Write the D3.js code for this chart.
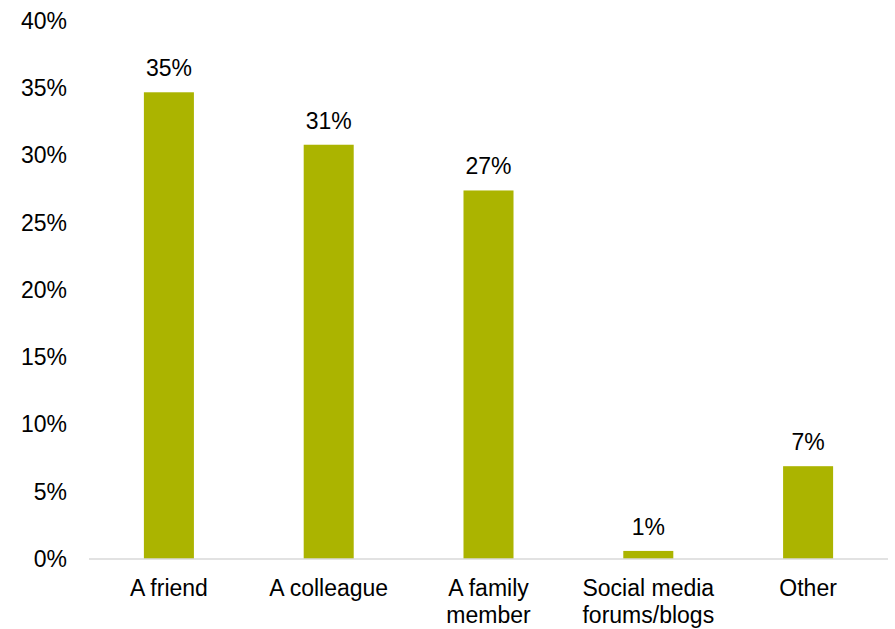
<!DOCTYPE html>
<html>
<head>
<meta charset="utf-8">
<script src="https://cdn.jsdelivr.net/npm/d3@7"></script>
<style>
  html, body { margin: 0; padding: 0; background: #fff; }
  svg { display: block; font-family: "Liberation Sans", Arial, sans-serif; }
</style>
</head>
<body>
<svg id="chart" width="895" height="629"></svg>
<script>
// Where respondents heard about it
const categories = ["A friend", "A colleague", "A family member", "Social media forums/blogs", "Other"];
const categoryLines = [["A friend"], ["A colleague"], ["A family", "member"], ["Social media", "forums/blogs"], ["Other"]];
const shares = [0.347, 0.308, 0.274, 0.006, 0.069];
const yTicks = [0, 0.05, 0.10, 0.15, 0.20, 0.25, 0.30, 0.35, 0.40];

const FONT = 23;
const svg = d3.select("#chart");
const margin = { top: 21, right: 7, bottom: 70, left: 89 };
const width = 895 - margin.left - margin.right;
const height = 629 - margin.top - margin.bottom;

const g = svg.append("g").attr("transform", `translate(${margin.left},${margin.top})`);

const x = d3.scaleBand().domain(categories).range([0, width]).paddingInner(0.687).paddingOuter(0.3435);
const y = d3.scaleLinear().domain([0, 0.40]).range([height, 0]);
const pct = d3.format(".0%");

// y axis: labels only
const yAxis = g.append("g")
  .call(d3.axisLeft(y).tickValues(yTicks).tickFormat(pct).tickSize(0).tickPadding(22));
yAxis.select(".domain").remove();
yAxis.selectAll("text").attr("font-size", FONT).attr("fill", "#000").attr("font-family", "Liberation Sans, Arial, sans-serif");

// bars
g.selectAll("rect.bar").data(shares).join("rect")
  .attr("class", "bar")
  .attr("x", (d, i) => x(categories[i]))
  .attr("width", x.bandwidth())
  .attr("y", d => y(d))
  .attr("height", d => height - y(d))
  .attr("fill", "#abb400");

// value labels
g.selectAll("text.val").data(shares).join("text")
  .attr("class", "val")
  .attr("x", (d, i) => x(categories[i]) + x.bandwidth() / 2)
  .attr("y", d => y(d) - 16)
  .attr("text-anchor", "middle")
  .attr("font-size", FONT)
  .attr("fill", "#000")
  .text(d => pct(d));

// x axis baseline
g.append("line")
  .attr("x1", 0).attr("x2", width)
  .attr("y1", y(0)).attr("y2", y(0))
  .attr("stroke", "#d9d9d9").attr("stroke-width", 1.5);

// category labels
const xl = g.selectAll("text.cat").data(categories).join("text")
  .attr("class", "cat")
  .attr("text-anchor", "middle")
  .attr("font-size", FONT)
  .attr("fill", "#000")
  .attr("transform", d => `translate(${x(d) + x.bandwidth() / 2},${height + 37})`);
xl.selectAll("tspan").data((d, i) => categoryLines[i]).join("tspan")
  .attr("x", 0)
  .attr("dy", (d, j) => j === 0 ? 0 : 27)
  .text(d => d);
</script>
</body>
</html>
